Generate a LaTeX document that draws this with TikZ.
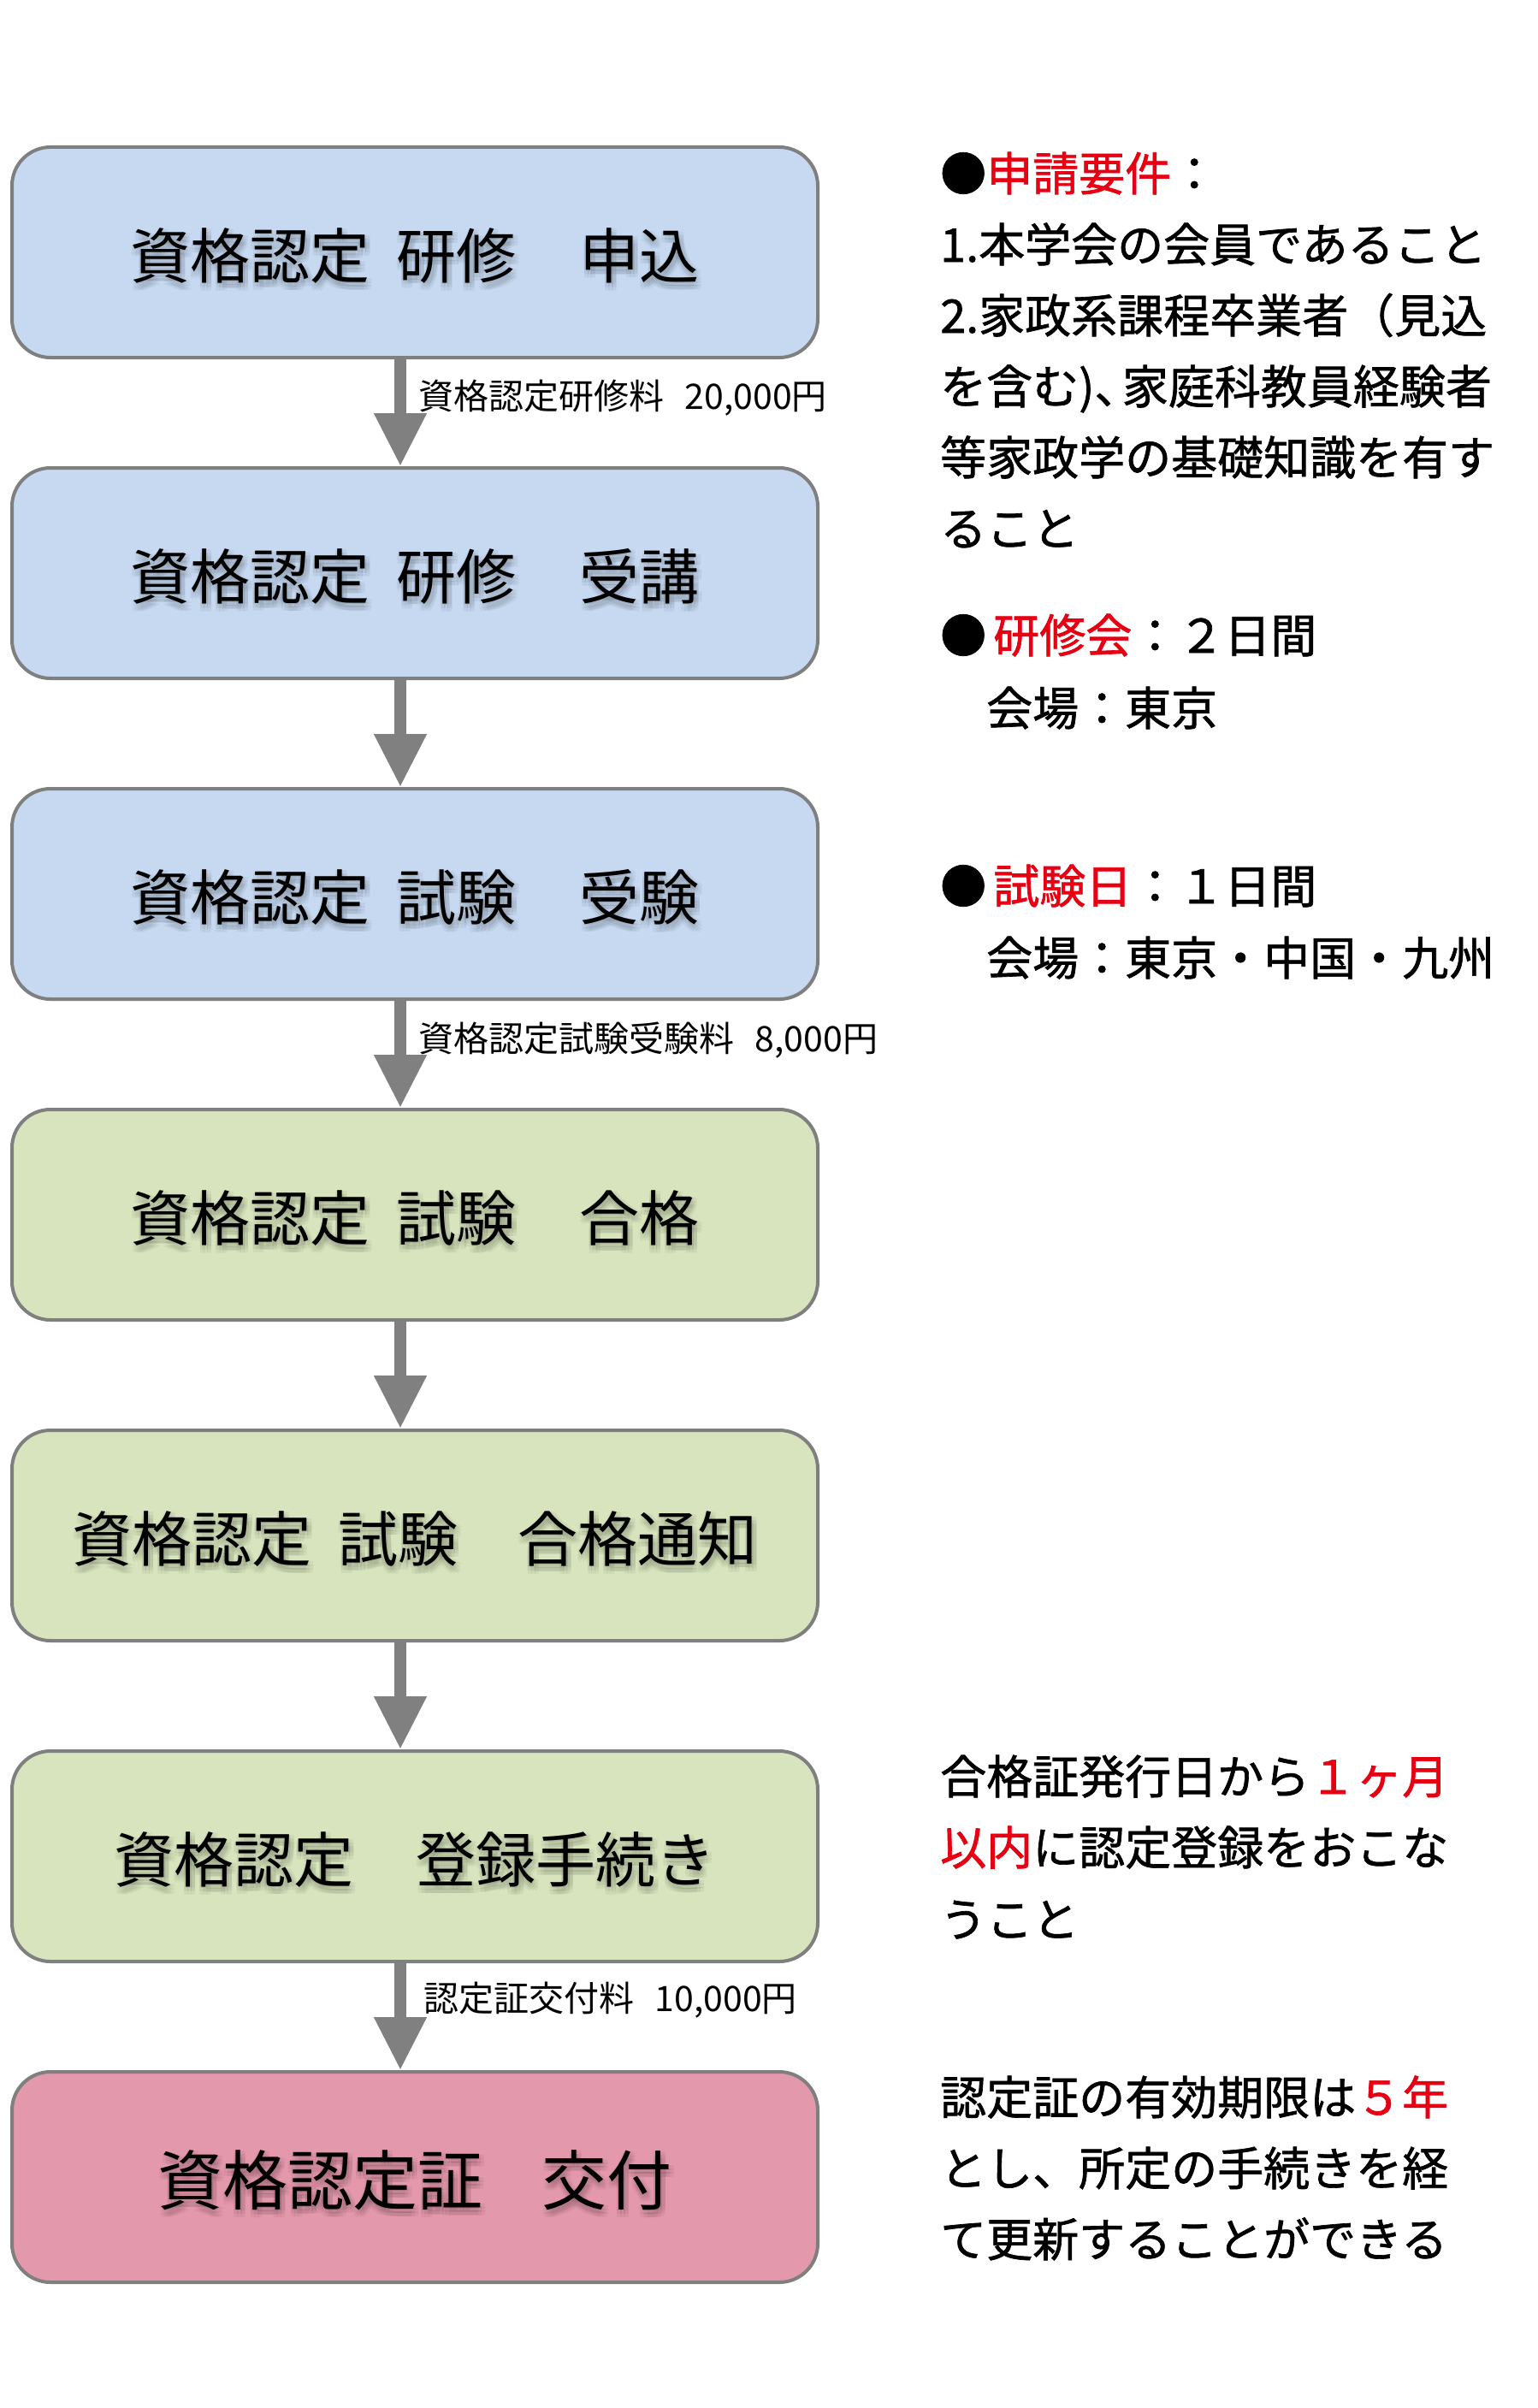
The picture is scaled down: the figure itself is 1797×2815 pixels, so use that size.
\documentclass[tikz,border=0pt]{standalone}
\usepackage{fontspec}
\setmainfont{Noto Sans CJK JP}
\newfontfamily\notefont[FakeBold=1.2]{Noto Sans CJK JP}
\usetikzlibrary{arrows.meta,calc}
\definecolor{boxblue}{HTML}{C6D9F1}
\definecolor{boxgreen}{HTML}{D7E4BD}
\definecolor{boxpink}{HTML}{E498AC}
\definecolor{bordergray}{HTML}{7F7F7F}
\definecolor{arrowgray}{HTML}{808080}
\definecolor{notered}{HTML}{E60012}
\newcommand\shadowlabel[4]{% #1 box, #2 style, #3 name, #4 text
  \foreach \dx in {-2,2,6}{\foreach \dy in {5,9,13}{%
    \node[#2,opacity=0.045] at ($(#1)+(\dx,\dy)$) {#4};}}%
  \node[#2] (#3) at ($(#1)+(0,4)$) {#4};}
\begin{document}
\begin{tikzpicture}[x=1pt,y=-1pt,
  flowbox/.style={draw=bordergray, line width=4pt, rounded corners=45pt,
    minimum width=942pt, minimum height=246pt, inner sep=0pt},
  boxtext/.style={inner sep=0pt, font=\fontsize{70}{70}\selectfont},
  bigboxtext/.style={inner sep=0pt, font=\fontsize{76}{76}\selectfont},
  flowarrow/.style={draw=arrowgray, line width=14pt,
    -{Triangle[width=58pt,length=62pt]}},
  fee/.style={anchor=base west, inner sep=0pt, font=\fontsize{41}{48}\selectfont},
  note/.style={anchor=base west, inner sep=0pt, font=\notefont\fontsize{54}{64}\selectfont},
]
\useasboundingbox[fill=white] (0,0) rectangle (1797,2815);

\node[flowbox, fill=boxblue]  (b1) at (485,295) {};
\node[flowbox, fill=boxblue]  (b2) at (485,670) {};
\node[flowbox, fill=boxblue]  (b3) at (485,1045) {};
\node[flowbox, fill=boxgreen] (b4) at (485,1420) {};
\node[flowbox, fill=boxgreen] (b5) at (485,1795) {};
\node[flowbox, fill=boxgreen] (b6) at (485,2170) {};
\node[flowbox, fill=boxpink]  (b7) at (485,2545) {};

\shadowlabel{b1}{boxtext}{t1}{資格認定\hspace{0.45em}研修\hspace{1.05em}申込}
\shadowlabel{b2}{boxtext}{t2}{資格認定\hspace{0.45em}研修\hspace{1.05em}受講}
\shadowlabel{b3}{boxtext}{t3}{資格認定\hspace{0.45em}試験\hspace{1.05em}受験}
\shadowlabel{b4}{boxtext}{t4}{資格認定\hspace{0.45em}試験\hspace{1.05em}合格}
\shadowlabel{b5}{boxtext}{t5}{資格認定\hspace{0.45em}試験\hspace{1.0em}合格通知}
\shadowlabel{b6}{boxtext}{t6}{資格認定\hspace{1.05em}登録手続き}
\shadowlabel{b7}{bigboxtext}{t7}{資格認定証\hspace{0.92em}交付}

\foreach \a/\b in {b1/b2,b2/b3,b3/b4,b4/b5,b5/b6,b6/b7}{
  \draw[flowarrow] ($(\a.south)+(-17,0)$) -- ($(\b.north)+(-17,0)$);
}

\node[fee] (f1) at (489,478) {資格認定研修料\hspace{0.6em}20,000円};
\node[fee] (f2) at (489,1229) {資格認定試験受験料\hspace{0.6em}8,000円};
\node[fee] (f3) at (495,2351) {認定証交付料\hspace{0.6em}10,000円};

\node[note] (n1) at (1099,223) {●\textcolor{notered}{申請要件}：};
\node[note] (n2) at (1099,306) {1.本学会の会員であること};
\node[note] (n3) at (1099,389) {2.家政系課程卒業者（見込};
\node[note] (n4) at (1099,472) {を含む)、\hspace{-0.4em}家庭科教員経験者};
\node[note] (n5) at (1099,555) {等家政学の基礎知識を有す};
\node[note] (n6) at (1099,638) {ること};

\node[note] (n7) at (1099,763) {●\hspace{0.15em}\textcolor{notered}{研修会}：２日間};
\node[note] (n8) at (1099,848) {　会場：東京};
\node[note] (n9) at (1099,1056) {●\hspace{0.15em}\textcolor{notered}{試験日}：１日間};
\node[note] (n10) at (1099,1140) {　会場：東京・中国・九州};

\node[note] (n11) at (1099,2097) {合格証発行日から\textcolor{notered}{１ヶ月}};
\node[note] (n12) at (1099,2180) {\textcolor{notered}{以内}に認定登録をおこな};
\node[note] (n13) at (1099,2264) {うこと};

\node[note] (n14) at (1099,2472) {認定証の有効期限は\textcolor{notered}{５年}};
\node[note] (n15) at (1099,2555) {とし、所定の手続きを経};
\node[note] (n16) at (1099,2638) {て更新することができる};
\end{tikzpicture}
\end{document}
